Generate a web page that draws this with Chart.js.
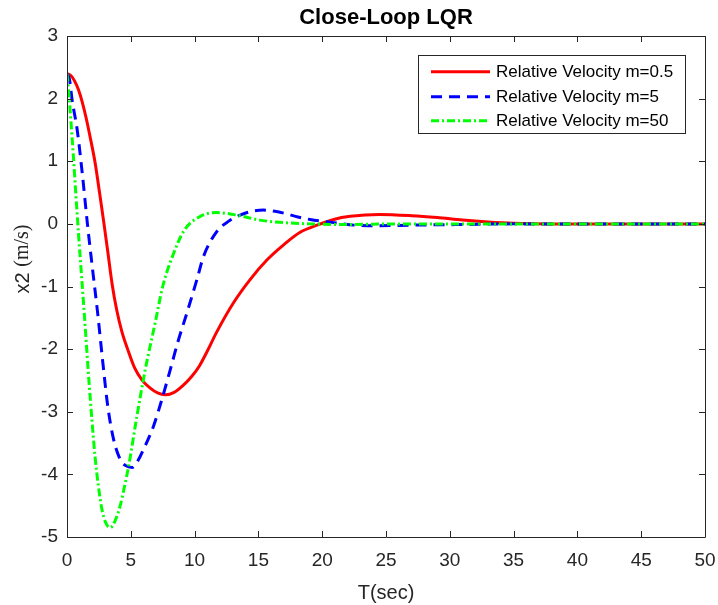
<!DOCTYPE html>
<html>
<head>
<meta charset="utf-8">
<script src="https://cdn.jsdelivr.net/npm/chart.js@4.4.1/dist/chart.umd.min.js"></script>
<style>
  body { margin: 0; background: #fff; }
  canvas { display: block; }
</style>
</head>
<body>
<canvas id="lqr-chart" width="718" height="605"></canvas>
<script>
// time samples (s) and x2 values (m/s)
const tRed = [0, 0.3, 0.6, 0.9, 1.2, 1.5, 1.8, 2.2, 2.55, 2.9, 3.2, 3.55, 3.9, 4.3, 4.75, 5.3, 5.9, 6.5, 7.1, 7.7, 8.4, 9.1, 9.8, 10.4, 11.0, 11.7, 13.05, 14.35, 15.7, 17, 18.3, 19.6, 20.9, 22.2, 24.5, 27, 29, 31, 33, 35, 38, 42, 46, 50];
const yRed = [2.4, 2.37, 2.28, 2.14, 1.94, 1.69, 1.4, 0.98, 0.5, 0.0, -0.45, -0.98, -1.38, -1.72, -2.0, -2.3, -2.5, -2.62, -2.7, -2.73, -2.69, -2.58, -2.43, -2.26, -2.03, -1.74, -1.26, -0.89, -0.57, -0.33, -0.13, -0.02, 0.07, 0.12, 0.15, 0.13, 0.1, 0.06, 0.03, 0.01, 0, 0, 0, 0];

const tBlue = [0, 0.2, 0.4, 0.8, 1.2, 1.6, 2.0, 2.4, 2.8, 3.2, 3.65, 4.17, 4.6, 5.1, 5.5, 6.0, 6.78, 7.44, 8.09, 8.74, 9.4, 10.18, 10.7, 11.75, 12.65, 13.57, 14.5, 15.4, 16.3, 17.2, 18.1, 19.05, 20.9, 22.5, 24.5, 27, 31, 35, 40, 50];
const yBlue = [2.4, 2.3, 1.98, 1.5, 0.8, 0.0, -0.72, -1.42, -2.2, -2.92, -3.44, -3.76, -3.86, -3.89, -3.8, -3.6, -3.23, -2.8, -2.33, -1.85, -1.42, -0.89, -0.52, -0.12, 0.04, 0.14, 0.2, 0.22, 0.2, 0.16, 0.11, 0.07, 0.02, -0.02, -0.03, -0.02, -0.01, 0, 0, 0];

const tGreen = [0, 0.13, 0.3, 0.5, 0.7, 0.9, 1.1, 1.3, 1.5, 1.7, 1.96, 2.2, 2.45, 2.74, 3.05, 3.39, 3.75, 4.17, 4.5, 4.83, 5.48, 6.13, 6.91, 7.5, 8.3, 9.2, 10.44, 11.75, 13.3, 15.1, 17, 19, 22, 26, 50];
const yGreen = [2.4, 2.12, 1.66, 1.08, 0.45, -0.15, -0.72, -1.28, -1.86, -2.45, -3.15, -3.72, -4.17, -4.56, -4.78, -4.85, -4.75, -4.5, -4.2, -3.87, -3.07, -2.33, -1.58, -1.0, -0.5, -0.1, 0.12, 0.18, 0.14, 0.06, 0.02, 0.0, -0.01, 0, 0];

const seriesNames = ['Relative Velocity m=0.5', 'Relative Velocity m=5', 'Relative Velocity m=50'];
const xTicks = [0, 5, 10, 15, 20, 25, 30, 35, 40, 45, 50];
const yTicks = [-5, -4, -3, -2, -1, 0, 1, 2, 3];

const SANS = '"Liberation Sans", Arial, Helvetica, sans-serif';
const SERIF = '"Liberation Serif", "Times New Roman", serif';
const INK = '#262626';

const toPoints = (ts, ys) => ts.map((t, i) => ({ x: t, y: ys[i] }));

// MATLAB-like frame: box, inward ticks, legend inside, titles
const matlabFrame = {
    id: 'matlabFrame',
    afterDatasetsDraw(chart) {
        const { ctx, chartArea: a, scales } = chart;
        ctx.save();
        ctx.strokeStyle = INK;
        ctx.lineWidth = 1;
        ctx.beginPath();
        ctx.rect(Math.round(a.left) + 0.5, Math.round(a.top) + 0.5, Math.round(a.right - a.left), Math.round(a.bottom - a.top));
        ctx.stroke();

        const tl = 6;
        ctx.beginPath();
        xTicks.forEach(v => {
            const px = Math.round(scales.x.getPixelForValue(v)) + 0.5;
            ctx.moveTo(px, a.bottom); ctx.lineTo(px, a.bottom - tl);
            ctx.moveTo(px, a.top); ctx.lineTo(px, a.top + tl);
        });
        yTicks.forEach(v => {
            const py = Math.round(scales.y.getPixelForValue(v)) + 0.5;
            ctx.moveTo(a.left, py); ctx.lineTo(a.left + tl, py);
            ctx.moveTo(a.right, py); ctx.lineTo(a.right - tl, py);
        });
        ctx.stroke();

        // legend box
        const lx = 418.5, ly = 55.5, lw = 267, lh = 78;
        ctx.fillStyle = '#fff';
        ctx.fillRect(lx, ly, lw, lh);
        ctx.strokeStyle = INK;
        ctx.strokeRect(lx, ly, lw, lh);
        const rows = [71.7, 96.7, 120.7];
        chart.data.datasets.forEach((ds, i) => {
            ctx.strokeStyle = ds.borderColor;
            ctx.lineWidth = ds.borderWidth;
            ctx.setLineDash(ds.borderDash || []);
            ctx.beginPath();
            ctx.moveTo(431, rows[i]);
            ctx.lineTo(490, rows[i]);
            ctx.stroke();
            ctx.setLineDash([]);
            ctx.fillStyle = '#000';
            ctx.font = '17px ' + SANS;
            ctx.textAlign = 'left';
            ctx.textBaseline = 'middle';
            ctx.fillText(ds.label, 496, rows[i] + 1);
        });
        ctx.restore();
    },
    afterDraw(chart) {
        const { ctx, chartArea: a } = chart;
        const cx = (a.left + a.right) / 2;
        ctx.save();
        ctx.textAlign = 'center';
        ctx.textBaseline = 'middle';
        ctx.fillStyle = '#000';
        ctx.font = 'bold 22px ' + SANS;
        ctx.fillText('Close-Loop LQR', cx, 18);

        ctx.fillStyle = INK;
        ctx.font = '20px ' + SANS;
        ctx.fillText('T(sec)', cx, 593);

        // y label: "x2" in sans, "(m/s)" in serif
        ctx.translate(23, 259);
        ctx.rotate(-Math.PI / 2);
        ctx.textAlign = 'left';
        ctx.font = '20px ' + SANS;
        const w1 = ctx.measureText('x2 ').width;
        ctx.font = '20px ' + SERIF;
        const w2 = ctx.measureText('(m/s)').width;
        const x0 = -(w1 + w2) / 2;
        ctx.font = '20px ' + SANS;
        ctx.fillText('x2 ', x0, 0);
        ctx.font = '20px ' + SERIF;
        ctx.fillText('(m/s)', x0 + w1, 0);
        ctx.restore();
    }
};

new Chart(document.getElementById('lqr-chart'), {
    type: 'line',
    data: {
        datasets: [
            { label: seriesNames[0], data: toPoints(tRed, yRed), borderColor: '#ff0000', borderWidth: 3, order: 2 },
            { label: seriesNames[1], data: toPoints(tBlue, yBlue), borderColor: '#0000ff', borderWidth: 3, borderDash: [11, 7], order: 1 },
            { label: seriesNames[2], data: toPoints(tGreen, yGreen), borderColor: '#00ff00', borderWidth: 3, borderDash: [8, 3, 2, 3], order: 0 }
        ]
    },
    options: {
        responsive: false,
        animation: false,
        events: [],
        layout: { padding: { left: 0, right: 13, top: 36, bottom: 0 } },
        elements: {
            point: { radius: 0 },
            line: { cubicInterpolationMode: 'monotone', fill: false, borderCapStyle: 'butt' }
        },
        plugins: { legend: { display: false }, title: { display: false }, tooltip: { enabled: false } },
        scales: {
            x: {
                type: 'linear', min: 0, max: 50,
                afterBuildTicks: (s) => { s.ticks = xTicks.map(v => ({ value: v })); },
                afterFit: (s) => { s.height = 68; s.paddingLeft = 0; s.paddingRight = 0; },
                grid: { display: false, drawTicks: false },
                border: { display: false },
                ticks: { color: INK, font: { family: SANS, size: 19 }, padding: 12, maxRotation: 0 }
            },
            y: {
                type: 'linear', min: -5, max: 3,
                afterBuildTicks: (s) => { s.ticks = yTicks.map(v => ({ value: v })); },
                afterFit: (s) => { s.width = 67; s.paddingTop = 0; s.paddingBottom = 0; },
                grid: { display: false, drawTicks: false },
                border: { display: false },
                ticks: { color: INK, font: { family: SANS, size: 19 }, padding: 9 }
            }
        }
    },
    plugins: [matlabFrame]
});
</script>
</body>
</html>
